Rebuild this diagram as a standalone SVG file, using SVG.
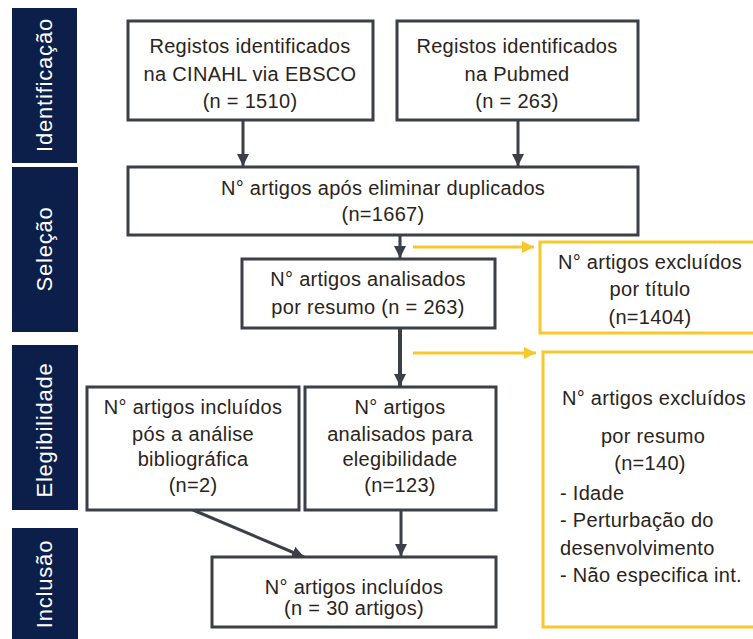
<svg xmlns="http://www.w3.org/2000/svg" width="753" height="639" viewBox="0 0 753 639">
<style>
.side{fill:#0c1f4b}
.sl{fill:#ffffff;font-family:"Liberation Sans",Arial,sans-serif;font-size:22px;letter-spacing:0.8px;text-anchor:middle}
.box{fill:#ffffff;stroke:#3b3f48;stroke-width:3}
.ybox{fill:#ffffff;stroke:#f7c72c;stroke-width:3}
.t{fill:#2a2320;font-family:"Liberation Sans",Arial,sans-serif;font-size:20px;letter-spacing:0.3px;text-anchor:middle}
.tl{text-anchor:start}
.c{stroke:#3b3f48;stroke-width:3;fill:none}
.cy{stroke:#f7c72c;stroke-width:3;fill:none}
</style>
<defs>
<marker id="ah" markerUnits="userSpaceOnUse" markerWidth="14" markerHeight="14" refX="12" refY="7" orient="auto">
<path d="M0,1 L12,7 L0,13 Z" fill="#3b3f48"/>
</marker>
<marker id="ay" markerUnits="userSpaceOnUse" markerWidth="14" markerHeight="14" refX="12" refY="7" orient="auto">
<path d="M0,1 L12,7 L0,13 Z" fill="#f7c72c"/>
</marker>
</defs>
<rect width="753" height="639" fill="#ffffff"/>

<g id="side-identificacao"><rect class="side" x="12" y="8" width="65" height="155"/><text class="sl" transform="translate(52,85) rotate(-90)">Identificação</text></g>
<g id="side-selecao"><rect class="side" x="12" y="167" width="66" height="165"/><text class="sl" transform="translate(52,249) rotate(-90)">Seleção</text></g>
<g id="side-elegibilidade"><rect class="side" x="12" y="345" width="66" height="165"/><text class="sl" transform="translate(52,430) rotate(-90)">Elegibilidade</text></g>
<g id="side-inclusao"><rect class="side" x="12" y="528" width="66" height="111"/><text class="sl" transform="translate(52,584) rotate(-90)">Inclusão</text></g>

<g id="connectors">
<line class="c" x1="243" y1="120" x2="243" y2="166" marker-end="url(#ah)"/>
<line class="c" x1="518" y1="120" x2="518" y2="166" marker-end="url(#ah)"/>
<line class="c" x1="400" y1="235" x2="400" y2="258" marker-end="url(#ah)"/>
<line class="c" x1="400" y1="328" x2="400" y2="386" marker-end="url(#ah)" style="stroke-width:4"/>
<line class="c" x1="401" y1="510" x2="401" y2="556" marker-end="url(#ah)"/>
<line class="c" x1="193" y1="510" x2="304" y2="557" marker-end="url(#ah)"/>
<line class="cy" x1="413" y1="247" x2="534" y2="247" marker-end="url(#ay)"/>
<line class="cy" x1="413" y1="353" x2="536" y2="353" marker-end="url(#ay)"/>
</g>

<g id="n-cinahl"><rect class="box" x="128" y="21" width="245" height="99"/>
<text class="t" x="250" y="53">Registos identificados</text>
<text class="t" x="250" y="81">na CINAHL  via EBSCO</text>
<text class="t" x="250" y="108">(n = 1510)</text></g>

<g id="n-pubmed"><rect class="box" x="397" y="21" width="241" height="99"/>
<text class="t" x="517" y="53">Registos identificados</text>
<text class="t" x="517" y="81">na Pubmed</text>
<text class="t" x="517" y="108">(n = 263)</text></g>

<g id="n-duplicados"><rect class="box" x="128" y="167" width="510" height="68"/>
<text class="t" x="383" y="195">N° artigos após eliminar duplicados</text>
<text class="t" x="383" y="221">(n=1667)</text></g>

<g id="n-resumo"><rect class="box" x="242" y="259" width="253" height="69"/>
<text class="t" x="368" y="286">N° artigos analisados</text>
<text class="t" x="368" y="314">por resumo (n = 263)</text></g>

<g id="n-excl-titulo"><rect class="ybox" x="540" y="242" width="220" height="91"/>
<text class="t" x="650" y="269">N° artigos excluídos</text>
<text class="t" x="650" y="296">por título</text>
<text class="t" x="650" y="324">(n=1404)</text></g>

<g id="n-excl-resumo"><rect class="ybox" x="543" y="352" width="220" height="275"/>
<text class="t" x="654" y="405">N° artigos excluídos</text>
<text class="t" x="653" y="443">por resumo</text>
<text class="t" x="650" y="470">(n=140)</text>
<text class="t tl" x="560" y="500">- Idade</text>
<text class="t tl" x="560" y="527">- Perturbação do</text>
<text class="t tl" x="560" y="555">desenvolvimento</text>
<text class="t tl" x="560" y="582">- Não especifica int.</text></g>

<g id="n-biblio"><rect class="box" x="87" y="387" width="212" height="123"/>
<text class="t" x="193" y="414">N° artigos incluídos</text>
<text class="t" x="193" y="441">pós a análise</text>
<text class="t" x="193" y="466">bibliográfica</text>
<text class="t" x="193" y="492">(n=2)</text></g>

<g id="n-elegib"><rect class="box" x="305" y="387" width="191" height="123"/>
<text class="t" x="400" y="414">N° artigos</text>
<text class="t" x="400" y="441">analisados para</text>
<text class="t" x="400" y="466">elegibilidade</text>
<text class="t" x="400" y="492">(n=123)</text></g>

<g id="n-incluidos"><rect class="box" x="212" y="557" width="284" height="70"/>
<text class="t" x="354" y="594">N° artigos incluídos</text>
<text class="t" x="354" y="615">(n = 30 artigos)</text></g>
</svg>
